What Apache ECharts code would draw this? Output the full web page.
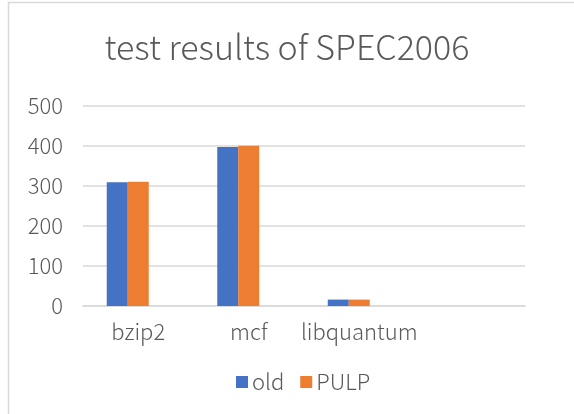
<!DOCTYPE html>
<html>
<head>
<meta charset="utf-8">
<script src="https://cdn.jsdelivr.net/npm/echarts@6/dist/echarts.min.js"></script>
<style>
html,body{margin:0;padding:0;background:#fff;}
#c{width:574px;height:414px;}
</style>
</head>
<body>
<div id="c"></div>
<script>
const categories = ['bzip2', 'mcf', 'libquantum', ''];
const oldValues = [309, 397, 16, null];
const pulpValues = [310, 400, 16, null];
const extraValues = [null, null, null, null];
const yTicks = [0, 100, 200, 300, 400, 500];

const FONT = '"Noto Sans CJK SC", "Noto Sans", sans-serif';
const chart = echarts.init(document.getElementById('c'), null, {renderer: 'canvas'});
chart.setOption({
  animation: false,
  backgroundColor: '#fff',
  title: {
    text: 'test results of SPEC2006',
    left: 'center',
    top: 25,
    textStyle: {fontFamily: FONT, fontSize: 34, fontWeight: 300, color: '#595959'}
  },
  graphic: [{
    type: 'rect',
    shape: {x: 8.5, y: 2.5, width: 600, height: 500},
    style: {fill: 'none', stroke: '#D9D9D9', lineWidth: 1.5},
    silent: true
  }],
  legend: {
    data: ['old', 'PULP'],
    bottom: 16,
    left: 231,
    itemWidth: 12,
    itemHeight: 12,
    itemGap: 16,
    icon: 'rect',
    textStyle: {fontFamily: FONT, fontSize: 22, fontWeight: 300, color: '#595959', padding: [0, 0, 0, -1]}
  },
  grid: {left: 83, right: 49, top: 105.7, bottom: 108, containLabel: false},
  xAxis: {
    type: 'category',
    data: categories,
    axisLine: {show: true, lineStyle: {color: '#D9D9D9', width: 1.5}},
    axisTick: {show: false},
    axisLabel: {interval: 0, fontFamily: FONT, fontSize: 22, fontWeight: 300, color: '#595959', margin: 15}
  },
  yAxis: {
    type: 'value',
    min: 0,
    max: 500,
    interval: 100,
    axisLine: {show: false},
    axisTick: {show: false},
    splitLine: {lineStyle: {color: '#D9D9D9', width: 1.5}},
    axisLabel: {fontFamily: FONT, fontSize: 22, fontWeight: 300, color: '#595959', margin: 20,
      formatter: v => yTicks.includes(v) ? String(v) : ''}
  },
  series: [
    {name: 'old', type: 'bar', data: oldValues, barWidth: 21, barGap: '0%', itemStyle: {color: '#4472C4'}},
    {name: 'PULP', type: 'bar', data: pulpValues, barWidth: 21, barGap: '0%', itemStyle: {color: '#ED7D31'}},
    {name: 'blank', type: 'bar', data: extraValues, barWidth: 21, barGap: '0%', itemStyle: {color: '#A5A5A5'}}
  ]
});
</script>
</body>
</html>
